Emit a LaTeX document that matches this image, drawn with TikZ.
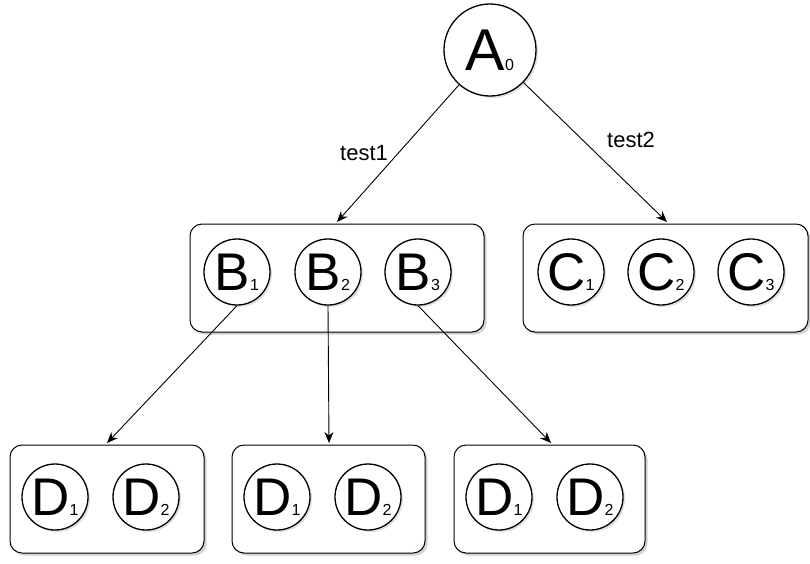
\documentclass[tikz,border=0pt]{standalone}
\usepackage{fontspec}
\setmainfont{Liberation Sans}
\usetikzlibrary{arrows.meta,shadows}
\begin{document}
\begin{tikzpicture}[x=1pt,y=-1pt,
  grp/.style={draw=black,line width=1pt,rounded corners=12pt,fill=white,
    drop shadow={shadow xshift=2.5pt,shadow yshift=-2.5pt,opacity=0.3,fill=black!60}},
  st/.style={draw=black,line width=1.3pt,circle,fill=white,minimum size=66pt,inner sep=0pt,
    drop shadow={shadow xshift=2pt,shadow yshift=-2pt,opacity=0.2,fill=black!60}},
  arr/.style={-{Stealth[length=11pt,width=9pt]},line width=0.9pt},
  lbl/.style={font=\fontsize{22}{22}\selectfont,inner sep=0pt}
]
\useasboundingbox (0,0) rectangle (810,563);
\newcommand{\st}[2]{{\fontsize{53}{53}\selectfont #1}{\fontsize{16}{16}\selectfont #2}}
% top node
\node[st,minimum size=92pt] (A) at (490,50) {{\fontsize{59}{59}\selectfont A}{\fontsize{16}{16}\selectfont 0}};
% group boxes
\path[grp] (190,224) rectangle (484,332);
\path[grp] (523,224) rectangle (808,332);
\path[grp] (10,445) rectangle (204,553);
\path[grp] (232,445) rectangle (425,553);
\path[grp] (454,445) rectangle (645,553);
% box top coordinates
\coordinate (Bt) at (337,222);
\coordinate (Ct) at (667,222);
\coordinate (D1t) at (107,443);
\coordinate (D2t) at (329,443);
\coordinate (D3t) at (551,443);
% B states
\node[st] (B1) at (237,272) {\st{B}{1}};
\node[st] (B2) at (328,272) {\st{B}{2}};
\node[st] (B3) at (418,272) {\st{B}{3}};
% C states
\node[st] (C1) at (571,272) {\st{C}{1}};
\node[st] (C2) at (661,272) {\st{C}{2}};
\node[st] (C3) at (751,272) {\st{C}{3}};
% D states
\node[st] (Da1) at (55,497) {\st{D}{1}};
\node[st] (Da2) at (146,497) {\st{D}{2}};
\node[st] (Db1) at (277,497) {\st{D}{1}};
\node[st] (Db2) at (368,497) {\st{D}{2}};
\node[st] (Dc1) at (499,497) {\st{D}{1}};
\node[st] (Dc2) at (590,497) {\st{D}{2}};
% connectors
\draw[arr] (A) -- (Bt);
\draw[arr] (A) -- (Ct);
\draw[arr] (B1.south) -- (D1t);
\draw[arr] (B2.south) -- (D2t);
\draw[arr] (B3.south) -- (D3t);
% labels
\node[lbl] (t1) at (364,153) {test1};
\node[lbl] (t2) at (631,140) {test2};
\end{tikzpicture}
\end{document}
